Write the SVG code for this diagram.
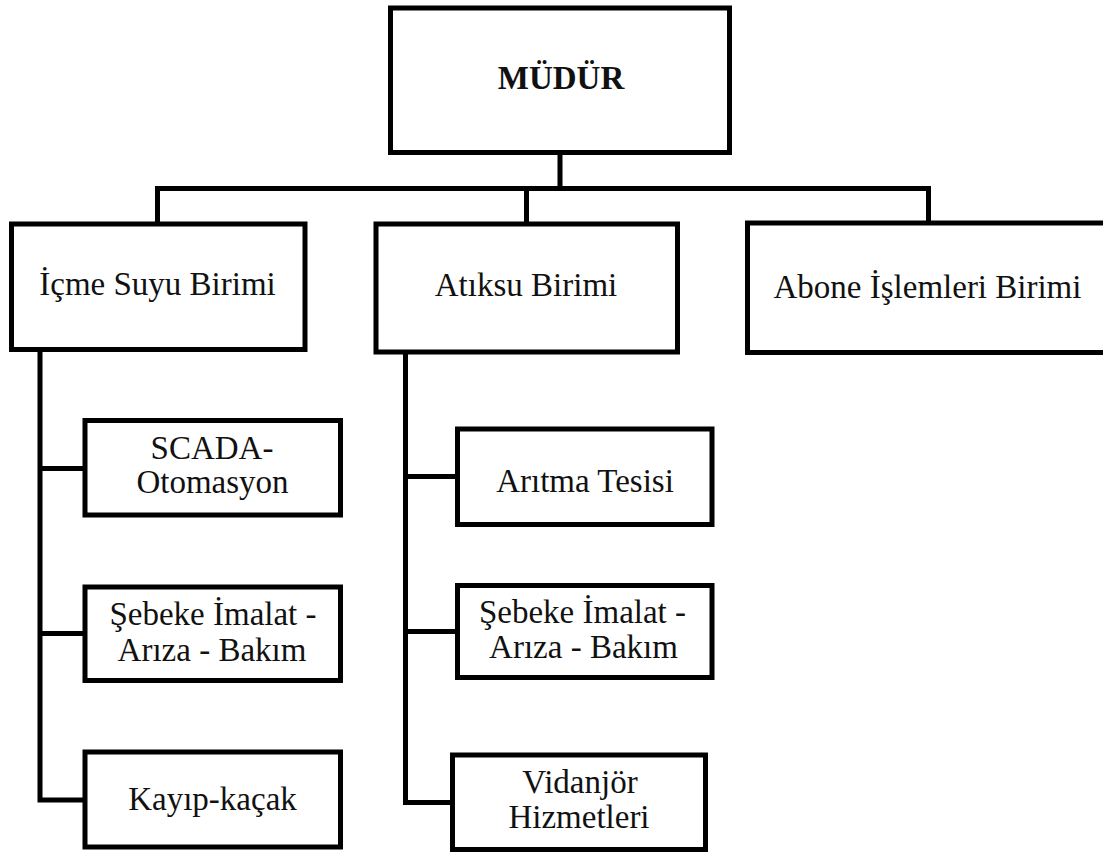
<svg xmlns="http://www.w3.org/2000/svg" width="1103" height="853" viewBox="0 0 1103 853">
<style>
.box{fill:#fff;stroke:#000;stroke-width:5}
.ln{fill:none;stroke:#000;stroke-width:5;stroke-linejoin:miter;stroke-linecap:square}
text{font-size:33px;fill:#111;text-anchor:middle}
.b{font-weight:bold}
</style>
<rect width="1103" height="853" fill="#fff"/>
<g id="connectors">
<path class="ln" d="M560,152V188.5M157.5,188.5H928.5M157.5,188.5V224M526.5,188.5V224M928.5,188.5V223"/>
<path class="ln" d="M40,349.5V800H85M40,468.5H85M40,633.5H85"/>
<path class="ln" d="M405.5,352V802.5H452.5M405.5,476.5H457.5M405.5,631.5H457.5"/>
</g>
<g font-family="Liberation Serif, Tinos, DejaVu Serif, serif">
<g id="mudur"><rect class="box" x="390.5" y="8" width="339" height="144.5"/><text class="b" x="561" y="89">MÜDÜR</text></g>
<g id="icme"><rect class="box" x="11.5" y="224" width="293.5" height="125.5"/><text x="157.5" y="295">İçme Suyu Birimi</text></g>
<g id="atiksu"><rect class="box" x="376" y="224" width="301.5" height="128"/><text x="526" y="296">Atıksu Birimi</text></g>
<g id="abone"><rect class="box" x="747.5" y="223" width="370" height="129.5"/><text x="927.5" y="298">Abone İşlemleri Birimi</text></g>
<g id="scada"><rect class="box" x="85" y="420.5" width="255.5" height="94.5"/><text x="212" y="459">SCADA-</text><text x="212.5" y="493">Otomasyon</text></g>
<g id="sebeke1"><rect class="box" x="85" y="587" width="255.5" height="93.5"/><text x="213" y="625">Şebeke İmalat -</text><text x="212" y="661">Arıza - Bakım</text></g>
<g id="kayip"><rect class="box" x="85" y="752" width="255.5" height="95"/><text x="212.5" y="810">Kayıp-kaçak</text></g>
<g id="aritma"><rect class="box" x="457.5" y="429" width="254.5" height="95.5"/><text x="585" y="492">Arıtma  Tesisi</text></g>
<g id="sebeke2"><rect class="box" x="457.5" y="585.5" width="254.5" height="92"/><text x="582.5" y="623">Şebeke İmalat -</text><text x="583.5" y="658">Arıza - Bakım</text></g>
<g id="vidanjor"><rect class="box" x="452.5" y="755" width="253" height="94.5"/><text x="580" y="793">Vidanjör</text><text x="579" y="828">Hizmetleri</text></g>
</g>
</svg>
